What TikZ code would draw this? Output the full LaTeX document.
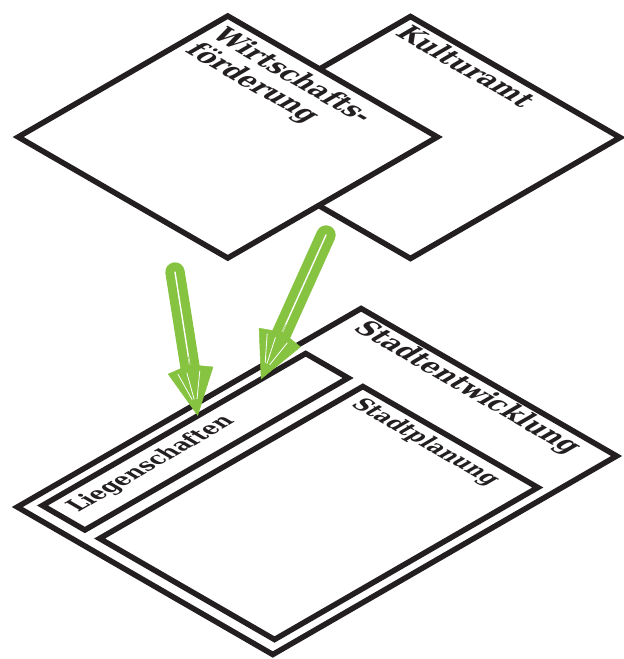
\documentclass[tikz,border=0pt]{standalone}
\usepackage{fontspec}
\setmainfont{DejaVu Serif}
\newfontfamily\labelfont{DejaVu Serif Condensed}
\usepackage{tikz}
\usetikzlibrary{arrows.meta, calc}

\definecolor{ink}{RGB}{35,31,32}
\definecolor{marker}{RGB}{133,195,65}

\tikzset{
  sheet/.style={draw=ink, line width=5.5pt, fill=white, inner sep=0pt, outer sep=0pt},
  bigtext/.style={inner sep=0pt, text=ink, align=left, font=\labelfont\bfseries\fontsize{28}{30}\selectfont},
  smalltext/.style={inner sep=0pt, text=ink, font=\labelfont\bfseries\fontsize{23.5}{26}\selectfont},
  shaft/.style={draw=marker, line width=9pt, double=white, double distance=1.4pt, line cap=round, shorten >=40pt},
  head/.style={marker, line width=0.5pt, -{Kite[length=52pt, width=46pt, inset=6pt]}},
  streak/.style={white, line width=0.8pt, line cap=round}
}

\begin{document}
\begin{tikzpicture}[x=1pt, y=1pt]
\useasboundingbox (0,0) rectangle (624,-659);
% sheets lie in the isometric top plane
\begin{scope}[cm={0.866,-0.5,0.866,0.5,(0,0)}, transform shape]
\node[sheet, minimum width=242pt, minimum height=242pt] (kultur) at (374.5,99.5) {};
\node[sheet, minimum width=242pt, minimum height=242pt] (wirt) at (268.5,-5.5) {};
\node[bigtext, anchor=base west] (kulturlbl) at (262,193) {Kulturamt};
\node[bigtext, anchor=north west] (wirtlbl) at (158,106) {Wirtschafts-\\förderung};

\node[sheet, minimum width=295pt, minimum height=397pt] (stadt) at (664.5,-298.5) {};
\node[sheet, minimum width=49pt, minimum height=304pt] (lieg) at (554.5,-329) {};
\node[sheet, minimum width=202pt, minimum height=304pt] (plan) at (697,-329) {};
\node[bigtext, anchor=base west] (stadtlbl) at (533,-126) {Stadtentwicklung};
\node[smalltext, anchor=base west] (planlbl) at (607,-203) {Stadtplanung};
\node[smalltext, anchor=base west, rotate=90] (lieglbl) at (558,-468) {Liegenschaften};
\end{scope}

% arrows
\coordinate (wtail) at (175,-272);
\coordinate (ktail) at (326,-235);
\coordinate (wtip) at ($(lieg.north west)!0.41!(lieg.south west)$);
\coordinate (ktip) at ($(lieg.north west)!0.17!(lieg.south west)$);
\foreach \tip/\tail in {wtip/wtail, ktip/ktail} {
  \draw[shaft] (\tail) -- (\tip);
  \draw[head] ($(\tip)!60pt!(\tail)$) -- (\tip);
  \foreach \a/\b in {-13/-3, -4/-1, 9/2}
    \draw[streak] ($($(\tip)!44pt!(\tail)$)!\a pt!90:(\tip)$) -- ($($(\tip)!17pt!(\tail)$)!\b pt!90:(\tip)$);
}
\end{tikzpicture}
\end{document}
